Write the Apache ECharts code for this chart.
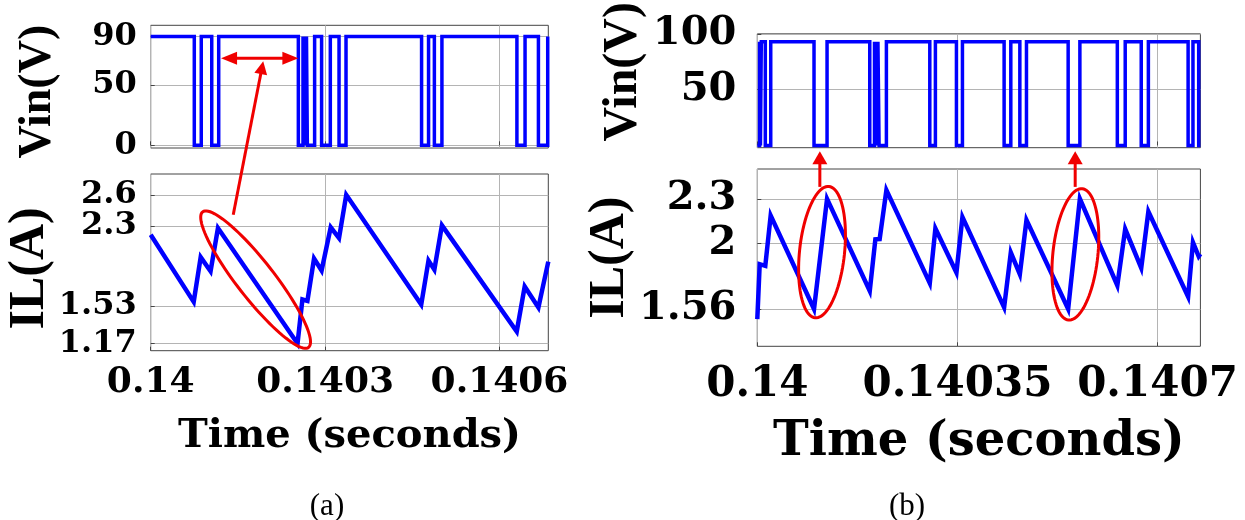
<!DOCTYPE html>
<html>
<head>
<meta charset="utf-8">
<script src="https://cdn.jsdelivr.net/npm/echarts@6/dist/echarts.min.js"></script>
<style>
  html, body { margin: 0; padding: 0; background: #ffffff; }
  #chart { width: 1245px; height: 520px; }
</style>
</head>
<body>
<div id="chart"></div>
<script>
// ---------- (a) ----------
// switch-node voltage: time of each edge (s) and the level held from it
const vinATime = [0.140000, 0.140075, 0.140087, 0.140105, 0.140117, 0.140254, 0.140262,
  0.1402635, 0.140265, 0.1402665, 0.140268, 0.1402695, 0.140282, 0.140294, 0.140309,
  0.140324, 0.140336, 0.140466, 0.140478, 0.140488, 0.140501, 0.140630, 0.140644,
  0.140667, 0.140683, 0.140684];
const vinALevel = [90, 0, 90, 0, 90, 0, 90, 0, 90, 0, 90, 0, 90, 0, 90, 0, 90, 0, 90,
  0, 90, 0, 90, 0, 90, 90];
// inductor current vertices
const ilATime = [0.140000, 0.140074, 0.140086, 0.140103, 0.1401157, 0.1402526, 0.140261,
  0.1402696, 0.140281, 0.140294, 0.1403097, 0.140324, 0.1403364, 0.1404654, 0.1404779,
  0.140488, 0.140501, 0.1406297, 0.1406434, 0.140667, 0.140684];
const ilAValue = [2.216, 1.57, 2.0, 1.865, 2.28, 1.17, 1.593, 1.58, 1.986, 1.871, 2.287,
  2.184, 2.6, 1.544, 1.967, 1.88, 2.306, 1.285, 1.717, 1.516, 1.957];
const xTicksA = [0.14, 0.1403, 0.1406];
const xLabelsA = ['0.14', '0.1403', '0.1406'];
const vinTicksA = [0, 50, 90];
const ilTicksA = [1.17, 1.53, 2.3, 2.6];

// ---------- (b) ----------
const vinBTime = [0.1400000, 0.1400040, 0.1400055, 0.1400070, 0.1400140, 0.1400235,
  0.1400992, 0.1401220, 0.1401967, 0.1402050, 0.1402065, 0.1402080, 0.1402095,
  0.1402110, 0.1402130, 0.1402258, 0.1403017, 0.1403115, 0.1403483, 0.1403588,
  0.1404317, 0.1404434, 0.1404592, 0.1404708, 0.1405437, 0.1405642, 0.1406297,
  0.1406435, 0.1406715, 0.1406840, 0.1407535, 0.1407620, 0.1407720, 0.1407750];
const vinBLevel = [0, 93, 0, 93, 0, 93, 0, 93, 0, 93, 0, 93, 0, 93, 0, 93, 0, 93, 0,
  93, 0, 93, 0, 93, 0, 93, 0, 93, 0, 93, 0, 93, 0, 0];
const ilBTime = [0.1400000, 0.1400042, 0.1400140, 0.1400234, 0.1400992, 0.1401220,
  0.1401967, 0.1402065, 0.1402140, 0.1402258, 0.1403017, 0.1403115, 0.1403483,
  0.1403588, 0.1404317, 0.1404434, 0.1404592, 0.1404708, 0.1405437, 0.1405642,
  0.1406297, 0.1406435, 0.1406715, 0.1406840, 0.1407535, 0.1407620, 0.1407720,
  0.1407750];
const ilBValue = [1.493, 1.861, 1.85, 2.188, 1.56, 2.3, 1.682, 2.028, 2.03, 2.358,
  1.734, 2.101, 1.805, 2.178, 1.571, 1.939, 1.794, 2.157, 1.56, 2.3, 1.718, 2.097,
  1.836, 2.214, 1.643, 2.008, 1.914, 1.93];
const xTicksB = [0.14, 0.14035, 0.1407];
const xLabelsB = ['0.14', '0.14035', '0.1407'];
const vinTicksB = [50, 100];
const ilTicksB = [1.56, 2, 2.3];

const BLUE = '#0000ff';
const RED = '#f00000';
const TICK_FONT = 'DejaVu Serif';
const NAME_FONT = 'Liberation Serif';

function pairs(xs, ys) { return xs.map((x, i) => [x, ys[i]]); }

function labelFor(ticks, labels) {
  return v => {
    let best = 0;
    ticks.forEach((t, i) => { if (Math.abs(t - v) < Math.abs(ticks[best] - v)) best = i; });
    return labels[best];
  };
}

function xAxis(grid, min, max, ticks, labels, showLabels, size, margin, name, nameSize, nameGap) {
  return {
    type: 'value', gridIndex: grid, min: min, max: max,
    axisLine: { show: false },
    axisTick: { show: true, inside: true, length: 4, customValues: ticks,
      lineStyle: { color: '#444', width: 1 } },
    axisLabel: { show: showLabels, customValues: ticks, formatter: labelFor(ticks, labels),
      hideOverlap: false, showMinLabel: true, showMaxLabel: true,
      fontFamily: TICK_FONT, fontWeight: 'bold', fontSize: size, color: '#000', margin: margin },
    splitLine: { show: true, lineStyle: { color: '#b4b4b4', width: 1 } },
    name: name, nameLocation: 'middle', nameGap: nameGap,
    nameTextStyle: { fontFamily: TICK_FONT, fontWeight: 'bold', fontSize: nameSize, color: '#000' }
  };
}

// Each y scale gets a main axis (grid lines, ticks, name, every other label) and a
// label-only companion carrying the remaining labels, so closely spaced values
// such as 2.3 / 2.6 are both printed.
// shift > 0 moves the rotated name up along the axis, < 0 moves it down
function yAxes(grid, min, max, ticks, size, margin, name, nameSize, nameGap, shift) {
  const pad = shift > 0 ? [0, 0, 0, 2 * shift] : [0, -2 * shift, 0, 0];
  const even = ticks.filter((t, i) => i % 2 === 0);
  const odd = ticks.filter((t, i) => i % 2 === 1);
  const label = vals => ({
    show: vals.length > 0, customValues: vals.length ? vals : [min],
    formatter: v => String(+v.toFixed(2)),
    hideOverlap: false, showMinLabel: true, showMaxLabel: true,
    fontFamily: TICK_FONT, fontWeight: 'bold', fontSize: size, color: '#000', margin: margin
  });
  const main = {
    type: 'value', gridIndex: grid, min: min, max: max, position: 'left', offset: 0,
    axisLine: { show: false },
    axisTick: { show: true, inside: true, length: 4, customValues: ticks,
      lineStyle: { color: '#444', width: 1 } },
    axisLabel: label(even),
    splitLine: { show: true, lineStyle: { color: '#b4b4b4', width: 1 } },
    name: name, nameLocation: 'middle', nameGap: nameGap, nameRotate: 90,
    nameTextStyle: { fontFamily: NAME_FONT, fontWeight: 'bold', fontSize: nameSize, color: '#000',
      padding: pad }
  };
  const companion = {
    type: 'value', gridIndex: grid, min: min, max: max, position: 'left', offset: 0,
    axisLine: { show: false }, axisTick: { show: false }, splitLine: { show: false },
    axisLabel: label(odd)
  };
  return [main, companion];
}

function gridBox(left, top, width, height) {
  return { left: left, top: top, width: width, height: height, show: true,
    borderColor: '#444', borderWidth: 1, backgroundColor: 'transparent', containLabel: false };
}

function trace(data, xi, yi, width, step) {
  return { type: 'line', data: data, xAxisIndex: xi, yAxisIndex: yi, step: step || false,
    showSymbol: false, symbol: 'none', animation: false,
    lineStyle: { color: BLUE, width: width, join: 'miter' }, z: 3 };
}

const chart = echarts.init(document.getElementById('chart'), null, { renderer: 'canvas' });

// main y axes land on even indices: grid k -> yAxisIndex 2k
const yAxisList = [].concat(
  yAxes(0, -2.2, 99.2, vinTicksA, 32, 14, 'Vin(V)', 46, 90, -5),
  yAxes(1, 1.1, 2.8, ilTicksA, 32, 14, 'IL(A)', 50, 87, -6),
  yAxes(2, -2, 100, vinTicksB, 40, 21, 'Vin(V)', 48, 110, 19),
  yAxes(3, 1.31, 2.5, ilTicksB, 40, 21, 'IL(A)', 50, 110, 0)
);

chart.setOption({
  animation: false,
  backgroundColor: '#ffffff',
  grid: [
    gridBox(150.7, 25.3, 397.6, 122.7),
    gridBox(150.7, 174, 397.6, 176.7),
    gridBox(757.3, 22.3, 443.1, 125.4),
    gridBox(757.3, 169, 443.1, 177.3)
  ],
  xAxis: [
    xAxis(0, 0.14, 0.140684, xTicksA, xLabelsA, false, 36, 14, '', 40, 66),
    xAxis(1, 0.14, 0.140684, xTicksA, xLabelsA, true, 36, 14, 'Time (seconds)', 40, 66),
    xAxis(2, 0.14, 0.140775, xTicksB, xLabelsB, false, 42, 18, '', 50, 72),
    xAxis(3, 0.14, 0.140775, xTicksB, xLabelsB, true, 42, 18, 'Time (seconds)', 48, 72)
  ],
  yAxis: yAxisList,
  title: [
    { text: '(a)', left: 322, top: 502, textAlign: 'center', textVerticalAlign: 'middle',
      textStyle: { fontFamily: NAME_FONT, fontWeight: 'normal', fontSize: 31, color: '#000' } },
    { text: '(b)', left: 902, top: 502, textAlign: 'center', textVerticalAlign: 'middle',
      textStyle: { fontFamily: NAME_FONT, fontWeight: 'normal', fontSize: 31, color: '#000' } }
  ],
  series: [
    trace(pairs(vinATime, vinALevel), 0, 0, 3.5, 'end'),
    trace(pairs(ilATime, ilAValue), 1, 2, 4.5),
    trace(pairs(vinBTime, vinBLevel), 2, 4, 3.5, 'end'),
    trace(pairs(ilBTime, ilBValue), 3, 6, 4.5)
  ]
});

// ---------- red annotations, anchored in data space ----------
function px(grid, x, y) {
  return chart.convertToPixel({ xAxisIndex: grid, yAxisIndex: 2 * grid }, [x, y]);
}

function ellipsePoints(c, rMajor, rMinor, angleDeg) {
  const a = angleDeg * Math.PI / 180, pts = [];
  for (let k = 0; k < 96; k++) {
    const t = 2 * Math.PI * k / 96;
    const ex = rMajor * Math.cos(t), ey = rMinor * Math.sin(t);
    pts.push([c[0] + ex * Math.cos(a) - ey * Math.sin(a), c[1] + ex * Math.sin(a) + ey * Math.cos(a)]);
  }
  return pts;
}

function head(tip, from, len, half) {
  const dx = tip[0] - from[0], dy = tip[1] - from[1];
  const d = Math.hypot(dx, dy), ux = dx / d, uy = dy / d;
  const bx = tip[0] - ux * len, by = tip[1] - uy * len;
  return [tip, [bx - uy * half, by + ux * half], [bx + uy * half, by - ux * half]];
}

function seg(a, b) {
  return { type: 'line', shape: { x1: a[0], y1: a[1], x2: b[0], y2: b[1] },
    style: { stroke: RED, lineWidth: 3 }, z: 10 };
}
function tri(pts) {
  return { type: 'polygon', shape: { points: pts }, style: { fill: RED }, z: 10 };
}
function ring(pts) {
  return { type: 'polygon', shape: { points: pts }, style: { fill: 'none', stroke: RED, lineWidth: 3 }, z: 10 };
}

const g = [];
// (a) double arrow marking the long on-interval
const dL = px(0, 0.140121, 72), dR = px(0, 0.140254, 72);
const dLb = [dL[0] + 14, dL[1]], dRb = [dR[0] - 14, dR[1]];
g.push(seg(dLb, dRb), tri(head(dL, dR, 16, 6.5)), tri(head(dR, dL, 16, 6.5)));
// (a) ellipse around the long falling ramp and the pointer to the arrow
const eA = px(1, 0.1401805, 1.784);
g.push(ring(ellipsePoints(eA, 86, 18.5, 52)));
const pTail = px(1, 0.140142, 2.408), pTip = px(0, 0.1401936, 69.5);
const pDir = [pTip[0] - pTail[0], pTip[1] - pTail[1]], pLen = Math.hypot(pDir[0], pDir[1]);
const pBase = [pTip[0] - pDir[0] / pLen * 12, pTip[1] - pDir[1] / pLen * 12];
g.push(seg(pTail, pBase), tri(head(pTip, pTail, 13, 6.5)));

// (b) two ellipses around the steep rises and arrows up to the matching off-pulses
[[0.1401132, 1.942], [0.1405563, 1.927]].forEach(([t, v], i) => {
  const c = px(3, t, v);
  g.push(ring(ellipsePoints(c, 66, 22.5, -84)));
  const at = i === 0 ? 0.1401094 : 0.140556;
  const tail = px(3, at, 2.38);
  const tip = px(2, at, -2);
  tip[1] += 3.5;
  g.push(seg(tail, [tip[0], tip[1] + 11]), tri(head(tip, tail, 13, 7.5)));
});

chart.setOption({ graphic: g });
</script>
</body>
</html>
